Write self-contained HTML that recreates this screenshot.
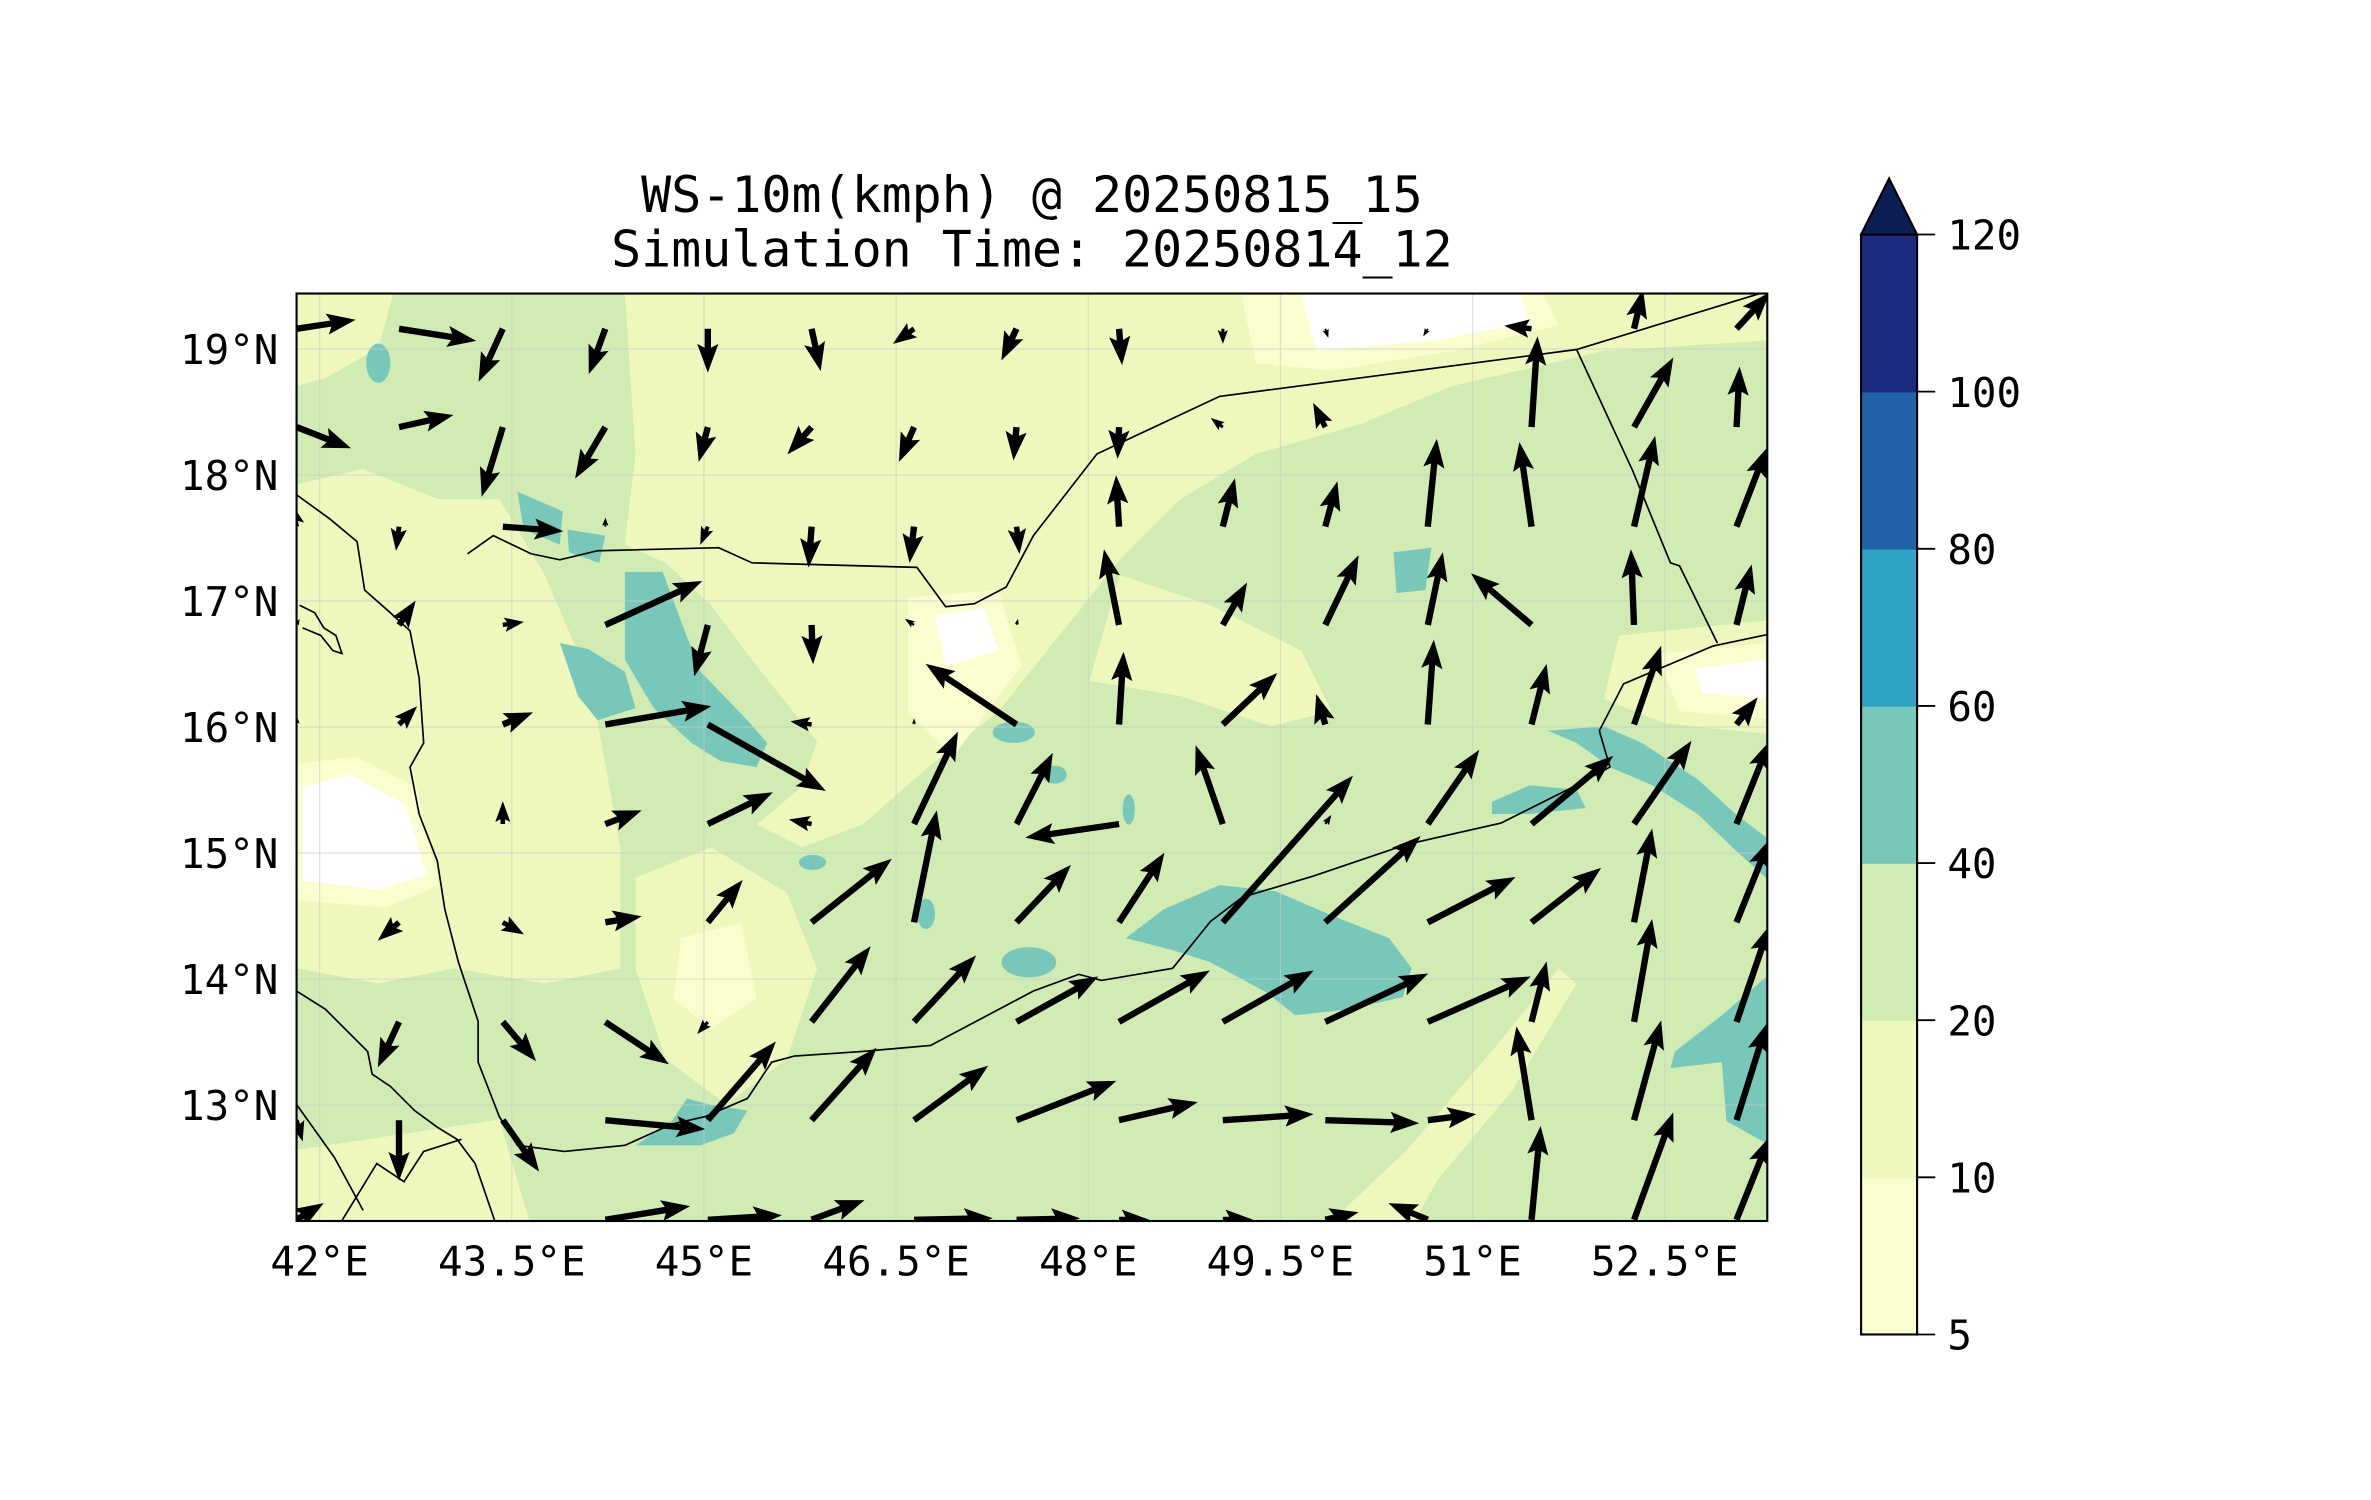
<!DOCTYPE html>
<html><head><meta charset="utf-8"><title>WS-10m</title>
<style>html,body{margin:0;padding:0;background:#fff;}svg{display:block;}
text{font-family:"DejaVu Sans Mono","Liberation Mono",monospace;fill:#000;}</style></head>
<body>
<svg id="chart" width="2371" height="1500" viewBox="0 0 1567 991.4" preserveAspectRatio="none" xmlns="http://www.w3.org/2000/svg">
<defs><clipPath id="plotclip"><rect x="196" y="194" width="972" height="613"/></clipPath></defs>
<rect width="1567" height="992" fill="#fff"/>
<text x="682" y="140" font-size="33" text-anchor="middle">WS-10m(kmph) @ 20250815_15</text>
<text x="682" y="176" font-size="33" text-anchor="middle">Simulation Time: 20250814_12</text>
<g clip-path="url(#plotclip)">
<rect x="196" y="194" width="972" height="613" fill="#d0ecb3"/>
<g fill="#eef8bd">
<polygon points="413,194 1168,194 1168,225 1060,232 960,255 900,280 830,300 780,330 740,370 700,420 660,470 610,510 570,545 530,560 500,545 530,520 540,490 500,440 470,400 440,372 413,360 420,300"/>
<polygon points="196,320 240,310 290,330 330,330 360,380 390,450 410,560 410,640 360,650 300,640 250,650 196,640"/>
<polygon points="196,760 330,740 350,807 196,807"/>
<polygon points="420,580 470,560 520,590 540,640 520,700 480,730 440,700 420,640"/>
<polygon points="880,807 930,760 990,690 1030,640 1042,650 1000,720 950,780 935,807"/>
<polygon points="1070,420 1168,410 1168,485 1100,478 1060,462"/>
<polygon points="740,380 800,400 860,430 880,470 840,480 780,460 720,450"/>
<polygon points="196,194 260,194 250,230 215,250 196,255"/>
</g>
<g fill="#fafdce">
<polygon points="196,505 235,500 275,520 290,585 255,600 196,595"/>
<polygon points="820,194 1020,194 1030,215 960,232 880,245 830,240"/>
<polygon points="600,395 660,390 675,440 630,500 600,470"/>
<polygon points="1095,432 1168,425 1168,475 1110,470"/>
<polygon points="450,620 490,610 500,660 470,680 445,660"/>
</g>
<g fill="#ffffff">
<polygon points="200,520 232,512 268,532 282,578 250,588 200,582"/>
<polygon points="860,194 1005,194 1010,213 950,225 870,232"/>
<polygon points="618,407 650,402 660,430 625,440"/>
<polygon points="1120,442 1168,436 1168,462 1125,458"/>
</g>
<g fill="#77c8bb">
<polygon points="413,378 438,378 451,413 463,444 494,476 507,491 500,507 476,503 457,491 432,468 413,436 413,405"/>
<polygon points="370,425 389,429 413,444 420,468 395,476 382,460"/>
<ellipse cx="250" cy="240" rx="8" ry="13"/>
<polygon points="342,325 372,338 370,360 346,350"/>
<polygon points="375,350 400,354 396,372 376,365"/>
<polygon points="769,601 806,585 843,589 880,605 918,620 933,640 927,659 893,667 856,671 837,656 800,636 775,628 744,620"/>
<polygon points="986,530 1011,519 1042,522 1048,534 1011,538 986,538"/>
<polygon points="1023,483 1060,480 1085,491 1122,515 1147,538 1168,554 1168,581 1147,562 1122,538 1092,519 1064,507 1042,491"/>
<polygon points="1168,645 1138,671 1107,695 1104,706 1138,702 1141,741 1168,756"/>
<polygon points="921,365 946,362 942,390 923,392"/>
<polygon points="420,757 444,741 454,726 469,730 494,734 485,749 463,757"/>
<ellipse cx="670" cy="484" rx="14" ry="7"/>
<ellipse cx="697" cy="512" rx="8" ry="6"/>
<ellipse cx="537" cy="570" rx="9" ry="5"/>
<ellipse cx="612" cy="604" rx="6" ry="10"/>
<ellipse cx="680" cy="636" rx="18" ry="10"/>
<ellipse cx="746" cy="535" rx="4" ry="10"/>
</g>
<g stroke="#cccccc" stroke-width="0.8" stroke-opacity="0.6" id="grid"></g>
<g fill="none" stroke="#000" stroke-width="1.1">
<polyline points="309,366 326,354 351,366 370,370 395,364 475,362 497,372 606,375 625,401 644,399 665,388 683,354 725,300 806,262 1042,231 1163,194 1170,192"/>
<polyline points="1042,231 1079,311 1104,372 1110,374 1135,425"/>
<polyline points="196,327 218,343 236,358 241,390 258,405 271,417 277,448 280,491 271,507 277,538 289,569 294,601 303,636 316,675 316,702 330,738 342,757 373,761 413,757 444,743 466,738 494,726 510,702 525,698 569,695 615,691 683,655 713,644 728,648 775,640 800,609 821,593 868,579 930,558 992,544 1036,522 1064,507 1057,483 1073,452 1132,427 1170,419"/>
<polyline points="196,655 215,667 227,679 243,695 246,710 258,718 274,734 289,745 302,753 314,769 326,804 328,810"/>
<polyline points="196,730 221,765 240,800"/>
<polyline points="224,810 249,769 267,781 280,761 305,753"/>
<polyline points="198,400 208,405 214,415 222,420 226,432 220,430 212,420 200,415"/>
</g>
<g id="arrows" fill="#000"></g>
</g>
<rect x="196" y="194" width="972" height="613" fill="none" stroke="#000" stroke-width="1.4"/>
<g id="axes"></g>
<g id="cbar"></g>
</svg>
<script>
// ---- data ----
const lonTicks = [42, 43.5, 45, 46.5, 48, 49.5, 51, 52.5];
const lonTickLabels = ["42°E","43.5°E","45°E","46.5°E","48°E","49.5°E","51°E","52.5°E"];
const latTicks = [13, 14, 15, 16, 17, 18, 19];
const latTickLabels = ["13°N","14°N","15°N","16°N","17°N","18°N","19°N"];
const cbarLevels = [5, 10, 20, 40, 60, 80, 100, 120];
const cbarColors = ["#fafdce","#eef8bd","#d0ecb3","#77c8bb","#2fa3c3","#2162a9","#1c2b7f"];
const gridLons = [41.82,42.62,43.43,44.23,45.03,45.84,46.64,47.44,48.24,49.05,49.85,50.65,51.46,52.26,53.06];
const gridLats = [19.16,18.38,17.59,16.81,16.02,15.23,14.45,13.66,12.88,12.09];
// eastward wind component per grid row
const windU = [
[39,51,-16,-11,0,6,-14,-10,2,0,2,-3,-18,6,22],
[36,36,-14,-20,-6,-16,-10,-2,-1,-8,-8,-2,4,26,2],
[-4,-2,40,0,-5,-2,-3,2,-2,8,8,6,-8,14,20],
[2,11,14,64,-9,1,-6,1,-10,16,22,10,-40,-2,10],
[0,12,20,70,78,-14,0,-60,3,36,-6,4,10,18,14],
[0,0,0,24,43,-15,29,24,-62,-18,4,34,54,38,22],
[0,-14,14,24,23,53,15,36,30,86,63,58,46,12,22],
[0,-14,22,42,-7,39,41,54,60,60,68,68,10,12,22],
[4,0,24,66,45,43,49,66,52,60,62,32,-10,18,20],
[18,0,0,56,49,35,52,42,20,20,22,-26,6,26,22]];
// northward wind component per grid row
const windV = [
[6,-8,-35,-30,-29,-28,-10,-21,-24,-10,-6,-5,2,26,24],
[-14,8,-46,-34,-23,-18,-23,-22,-21,6,16,2,60,46,40],
[16,-16,-3,6,-12,-27,-24,-18,34,32,30,58,56,60,52],
[4,16,2,29,-34,-26,4,4,50,28,46,48,34,50,40],
[6,12,8,12,-44,2,4,40,48,34,20,56,40,52,18],
[0,0,15,9,21,3,61,47,-9,52,6,49,45,55,55],
[0,-12,-8,4,28,42,74,38,46,97,57,30,36,62,55],
[0,-30,-26,-28,-8,50,44,30,34,34,32,30,40,68,64],
[-14,-40,-34,-6,52,48,36,26,12,4,-2,4,62,66,64],
[11,0,0,9,3,13,1,1,0,0,5,11,62,71,55]];

// ---- axis functions ----
const X0=196, X1=1168, Y0=194, Y1=807, LON0=41.82, LON1=53.3, LAT0=12.08, LAT1=19.44;
function xOf(lon){ return X0 + (lon-LON0)/(LON1-LON0)*(X1-X0); }
function yOf(lat){ return Y0 + (LAT1-lat)/(LAT1-LAT0)*(Y1-Y0); }
const CB_X=1230, CB_W=37, CB_TOP=155, CB_BOT=882;
function cbY(i){ return CB_BOT - i*(CB_BOT-CB_TOP)/(cbarLevels.length-1); }
const NS="http://www.w3.org/2000/svg";
function mk(tag, attrs, parent){ const e=document.createElementNS(NS,tag); for(const k in attrs) e.setAttribute(k,attrs[k]); parent.appendChild(e); return e; }

// gridlines
const grid=document.getElementById('grid');
lonTicks.forEach(function(lon){
  const l=mk('line',{x1:xOf(lon),x2:xOf(lon),y1:Y0,y2:Y1},grid);
  
  
});
latTicks.forEach(function(lat){
  const l=mk('line',{x1:X0,x2:X1,y1:yOf(lat),y2:yOf(lat)},grid);
  
  
});

// axes labels
const axes=document.getElementById('axes');
lonTicks.forEach(function(lon,i){
  const t=mk('text',{x:xOf(lon),y:843,'font-size':27,'text-anchor':'middle'},axes);
  t.textContent=lonTickLabels[i];
  
  
});
latTicks.forEach(function(lat,i){
  const t=mk('text',{x:184,y:yOf(lat)+10,'font-size':27,'text-anchor':'end'},axes);
  t.textContent=latTickLabels[i];
  
  
});

// arrows (quiver, pivot tail)
const arrows=document.getElementById('arrows');
const W=4.2, HW=7, HL=19, HAL=16.5;
for(let r=0;r<gridLats.length;r++){
  for(let c=0;c<gridLons.length;c++){
    const u=windU[r][c], v=windV[r][c];
    const L=Math.hypot(u,v);
    if(L<3) continue;
    const x0=xOf(gridLons[c]), y0=yOf(gridLats[r]);
    const ux=u/L, uy=-v/L, px=-uy, py=ux;
    let s=1, len=L;
    if(L<HL*1.1){ s=L/(HL*1.1); }
    const hl=HL*s, hal=HAL*s, hw=HW*s, w=W/2*s;
    const pts=[
      [0,-w],[len-hal,-w],[len-hl,-hw],[len,0],[len-hl,hw],[len-hal,w],[0,w]
    ].map(function(p){ return (x0+ux*p[0]+px*p[1]).toFixed(1)+','+(y0+uy*p[0]+py*p[1]).toFixed(1); }).join(' ');
    const a=mk('polygon',{points:pts},arrows);
    
    
  }
}

// colorbar
const cb=document.getElementById('cbar');
for(let i=0;i<cbarColors.length;i++){
  const rr=mk('rect',{x:CB_X,y:cbY(i+1),width:CB_W,height:cbY(i)-cbY(i+1)+0.5,fill:cbarColors[i]},cb);
  
  
}
const tri=mk('polygon',{points:CB_X+','+CB_TOP+' '+(CB_X+CB_W/2)+',118 '+(CB_X+CB_W)+','+CB_TOP,fill:'#0b1f55',stroke:'#000','stroke-width':1.4},cb);


const fr=mk('rect',{x:CB_X,y:CB_TOP,width:CB_W,height:CB_BOT-CB_TOP,fill:'none',stroke:'#000','stroke-width':1.4},cb);


cbarLevels.forEach(function(lv,i){
  const tk=mk('line',{x1:CB_X+CB_W,x2:CB_X+CB_W+12,y1:cbY(i),y2:cbY(i),stroke:'#000','stroke-width':1.2},cb);
  
  
  const t=mk('text',{x:1287,y:cbY(i)+10,'font-size':27},cb);
  t.textContent=String(lv);
  
  
});
</script>
</body></html>
